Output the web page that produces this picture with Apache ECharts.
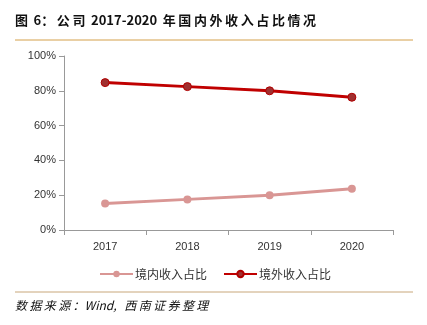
<!DOCTYPE html>
<html><head><meta charset="utf-8">
<script src="https://cdn.jsdelivr.net/npm/echarts@6/dist/echarts.min.js"></script>
<style>html,body{margin:0;padding:0;background:#fff}#c{width:427px;height:325px}</style>
</head><body><div id="c"></div>
<script>
const categories = ['2017', '2018', '2019', '2020'];
const domesticShare = [15.3, 17.6, 20.0, 23.7];
const overseasShare = [84.7, 82.4, 80.0, 76.3];
const yTicks = [0, 20, 40, 60, 80, 100];

const S = '\u2009';
const chart = echarts.init(document.getElementById('c'));
chart.setOption({
  animation: false,
  graphic: [
    {type:'text', left:15, top:14, style:{text:['图',' 6：','公','司',' 2017-2020 ','年','国','内','外','收','入','占','比','情','况'].join(S), font:'bold 13px "Noto Sans CJK SC", sans-serif', fill:'#111'}},
    {type:'line', shape:{x1:15, y1:40, x2:413, y2:40}, style:{stroke:'#d4a04a', lineWidth:1}},
    {type:'line', shape:{x1:15, y1:292, x2:413, y2:292}, style:{stroke:'#c8a77a', lineWidth:1}},
    {type:'text', left:15, top:299, style:{text:['数','据','来','源','：Wind,  ','西','南','证','券','整','理'].join(S), font:'italic 12px "Noto Sans CJK SC", sans-serif', fill:'#111'}}
  ],
  grid: {left:64, right:34, top:56, bottom:95},
  legend: {
    top:263, left:94,
    itemWidth:33, itemHeight:8, itemGap:16,
    textStyle:{fontSize:12, color:'#333', fontFamily:'"Noto Sans CJK SC", sans-serif', padding:[0,0,0,-3]},
    data:['境内收入占比','境外收入占比']
  },
  xAxis: {
    type:'category', data:categories, boundaryGap:true,
    axisLine:{lineStyle:{color:'#999'}},
    axisTick:{show:true, alignWithLabel:false, lineStyle:{color:'#999'}},
    axisLabel:{color:'#333', fontSize:11, margin:11}
  },
  yAxis: {
    type:'value', min:yTicks[0], max:yTicks[yTicks.length-1], interval:20,
    axisLine:{show:true, lineStyle:{color:'#999'}},
    axisTick:{show:true, lineStyle:{color:'#999'}},
    splitLine:{show:false},
    axisLabel:{color:'#333', fontSize:11, formatter:'{value}%', margin:8}
  },
  series: [
    {name:'境内收入占比', type:'line', data:domesticShare, symbol:'circle', symbolSize:8,
     lineStyle:{color:'#d99694', width:3}, itemStyle:{color:'#d99694'}},
    {name:'境外收入占比', type:'line', data:overseasShare, symbol:'circle', symbolSize:8,
     lineStyle:{color:'#c00000', width:3}, itemStyle:{color:'#a03030', borderColor:'#b00000', borderWidth:1}}
  ]
});
</script></body></html>
